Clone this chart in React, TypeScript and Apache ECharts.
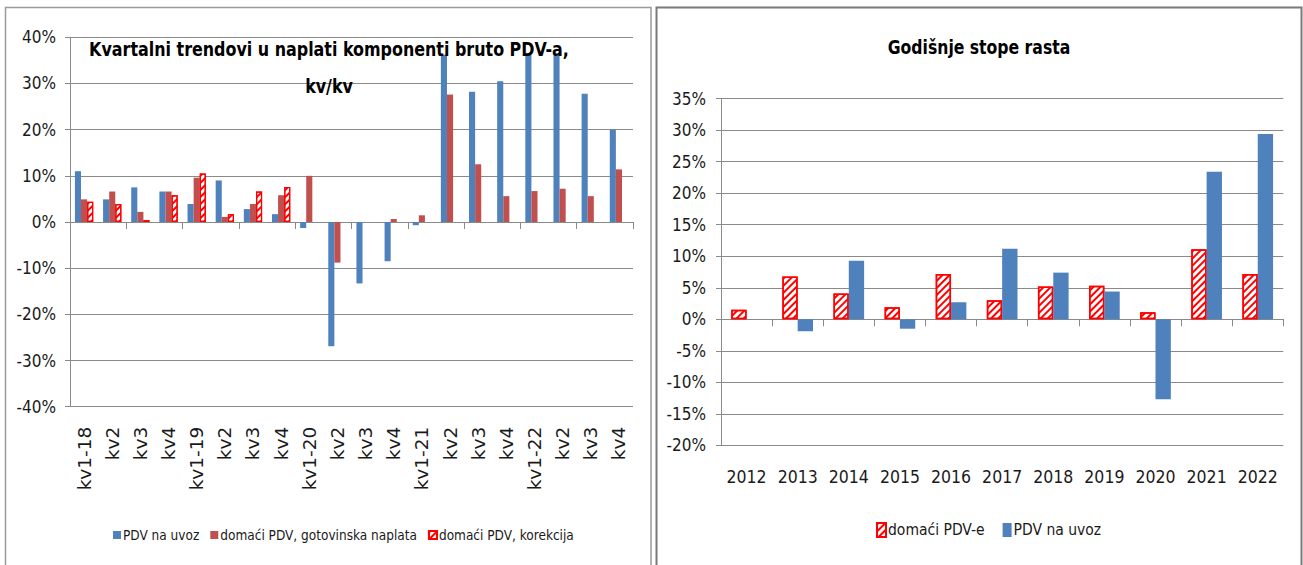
import React, { useEffect, useRef } from 'react';
import * as echarts from 'echarts';

// ---- Data (left chart: quarterly q/q) ----
const quarterLabels = ['kv1-18', 'kv2', 'kv3', 'kv4', 'kv1-19', 'kv2', 'kv3', 'kv4', 'kv1-20', 'kv2', 'kv3', 'kv4', 'kv1-21', 'kv2', 'kv3', 'kv4', 'kv1-22', 'kv2', 'kv3', 'kv4'];
const importVatQ = [11.0, 4.9, 7.5, 6.6, 3.9, 9.0, 2.8, 1.7, -1.3, -26.9, -13.3, -8.5, -0.7, 36.2, 28.2, 30.5, 36.3, 36.2, 27.8, 20.0];
const domesticCashQ = [4.9, 6.6, 2.2, 6.6, 9.6, 1.1, 3.9, 5.8, 10.0, -8.8, 0, 0.65, 1.45, 27.6, 12.5, 5.6, 6.7, 7.2, 5.6, 11.4];
const domesticCorrQ = [4.4, 3.9, 0.4, 5.8, 10.5, 1.7, 6.6, 7.6, null, null, null, null, null, null, null, null, null, null, null, null];

// ---- Data (right chart: annual growth) ----
const years = ['2012', '2013', '2014', '2015', '2016', '2017', '2018', '2019', '2020', '2021', '2022'];
const domesticVatY = [1.5, 6.8, 4.1, 1.9, 7.2, 3.0, 5.2, 5.3, 1.1, 11.1, 7.2];
const importVatY = [null, -1.9, 9.3, -1.5, 2.7, 11.2, 7.4, 4.4, -12.7, 23.4, 29.4];

const leftTitle1 = 'Kvartalni trendovi u naplati komponenti bruto PDV-a,';
const leftTitle2 = 'kv/kv';
const rightTitle = 'Godišnje stope rasta';

const NARROW = '"Liberation Sans Narrow", "DejaVu Sans Condensed", "Roboto Condensed", "Arial Narrow", Roboto, sans-serif';
const WIDE = '"DejaVu Sans", Verdana, sans-serif';
const BLUE = '#4F81BD';
const DARKRED = '#C0504D';
const RED = '#FF0000';
const GRID = '#8a8a8a';
const TEXT = '#1a1a1a';

const hatchStyle = {
  color: '#ffffff',
  borderColor: RED,
  borderWidth: 1.5,
  decal: {
    symbol: 'rect',
    symbolSize: 1,
    color: RED,
    backgroundColor: '#ffffff',
    dashArrayX: [1, 0],
    dashArrayY: [2, 2.5],
    rotation: -Math.PI / 4,
  },
};

export default function App() {
  const ref = useRef<HTMLDivElement>(null);
  useEffect(() => {
    if (!ref.current) return;
    const chart = echarts.init(ref.current, null, { renderer: 'svg' });
    const yAxisCommon = {
      type: 'value',
      axisLine: { show: true, lineStyle: { color: GRID, width: 1 } },
      axisTick: { show: true, length: 5, lineStyle: { color: GRID } },
      splitLine: { show: true, lineStyle: { color: GRID, width: 1 } },
      axisLabel: { formatter: '{value}%', color: TEXT, fontFamily: NARROW, fontSize: 17, margin: 14 },
    };
    chart.setOption({
      animation: false,
      backgroundColor: '#ffffff',
      grid: [
        { left: 70, right: 670, top: 37.3, bottom: 158.3 },
        { left: 721, right: 19.7, top: 98.7, bottom: 119.7 },
      ],
      xAxis: [
        {
          gridIndex: 0, type: 'category', data: quarterLabels, position: 'bottom',
          axisLine: { show: true, onZero: true, lineStyle: { color: GRID } },
          axisTick: { show: true, length: 7, lineStyle: { color: GRID } },
          axisLabel: { show: false }, splitLine: { show: false },
        },
        {
          gridIndex: 0, type: 'category', data: quarterLabels, position: 'bottom',
          axisLine: { show: false, onZero: false }, axisTick: { show: false },
          axisLabel: { show: true, rotate: 90, interval: 0, margin: 20, color: TEXT, fontFamily: WIDE, fontSize: 18.5 },
          splitLine: { show: false },
        },
        {
          gridIndex: 1, type: 'category', data: years, position: 'bottom',
          axisLine: { show: true, onZero: true, lineStyle: { color: GRID } },
          axisTick: { show: true, length: 7, lineStyle: { color: GRID } },
          axisLabel: { show: false }, splitLine: { show: false },
        },
        {
          gridIndex: 1, type: 'category', data: years, position: 'bottom',
          axisLine: { show: false, onZero: false }, axisTick: { show: false },
          axisLabel: { show: true, interval: 0, margin: 23, color: TEXT, fontFamily: NARROW, fontSize: 17.5 },
          splitLine: { show: false },
        },
      ],
      yAxis: [
        { ...yAxisCommon, gridIndex: 0, min: -40, max: 40, interval: 10 },
        { ...yAxisCommon, gridIndex: 1, min: -20, max: 35, interval: 5, axisLabel: { ...yAxisCommon.axisLabel, margin: 15 } },
      ],
      legend: [
        {
          data: ['PDV na uvoz', 'domaći PDV, gotovinska naplata', 'domaći PDV, korekcija'],
          left: 108, top: 523, itemWidth: 8, itemHeight: 8, itemGap: 11, icon: 'rect',
          selectedMode: false,
          textStyle: { fontFamily: NARROW, fontSize: 13.5, color: TEXT, padding: [0, 0, 0, -3] },
        },
        {
          data: ['domaći PDV-e', 'PDV na uvoz'],
          left: 871, top: 517, itemWidth: 9, itemHeight: 14, itemGap: 18, icon: 'rect',
          selectedMode: false,
          textStyle: { fontFamily: NARROW, fontSize: 15.5, color: TEXT, padding: [0, 0, 0, -3] },
        },
      ],
      graphic: {
        elements: [
          { type: 'rect', z: -10, silent: true, shape: { x: 5.5, y: 7.5, width: 645.5, height: 570 }, style: { fill: 'none', stroke: '#9a9a9a', lineWidth: 1.5 } },
          { type: 'rect', z: -10, silent: true, shape: { x: 656.5, y: 7.5, width: 645, height: 570 }, style: { fill: 'none', stroke: '#7a7a7a', lineWidth: 2 } },
          { type: 'text', z: 100, x: 329, y: 49, scaleX: 0.885, style: { text: leftTitle1, font: 'bold 20px ' + NARROW, fill: '#000', textAlign: 'center', textVerticalAlign: 'middle' } },
          { type: 'text', z: 100, x: 329, y: 86, scaleX: 0.885, style: { text: leftTitle2, font: 'bold 20px ' + NARROW, fill: '#000', textAlign: 'center', textVerticalAlign: 'middle' } },
          { type: 'text', z: 100, x: 979, y: 47, scaleX: 0.87, style: { text: rightTitle, font: 'bold 20px ' + NARROW, fill: '#000', textAlign: 'center', textVerticalAlign: 'middle' } },
        ],
      },
      series: [
        { name: 'PDV na uvoz', type: 'bar', xAxisIndex: 0, yAxisIndex: 0, data: importVatQ, itemStyle: { color: BLUE }, barGap: '0%', barCategoryGap: '35%' },
        { name: 'domaći PDV, gotovinska naplata', type: 'bar', xAxisIndex: 0, yAxisIndex: 0, data: domesticCashQ, itemStyle: { color: DARKRED }, barGap: '0%', barCategoryGap: '35%' },
        { name: 'domaći PDV, korekcija', type: 'bar', xAxisIndex: 0, yAxisIndex: 0, data: domesticCorrQ, itemStyle: { ...hatchStyle, borderWidth: 1.2 }, barGap: '0%', barCategoryGap: '35%' },
        { name: 'domaći PDV-e', type: 'bar', xAxisIndex: 2, yAxisIndex: 1, data: domesticVatY, itemStyle: hatchStyle, barGap: '0%', barCategoryGap: '40%' },
        { name: 'PDV na uvoz', type: 'bar', xAxisIndex: 2, yAxisIndex: 1, data: importVatY, itemStyle: { color: BLUE }, barGap: '0%', barCategoryGap: '40%' },
      ],
    });
    return () => chart.dispose();
  }, []);
  return <div ref={ref} style={{ position: 'absolute', left: 0, top: 0, width: 1303, height: 565 }} />;
}
